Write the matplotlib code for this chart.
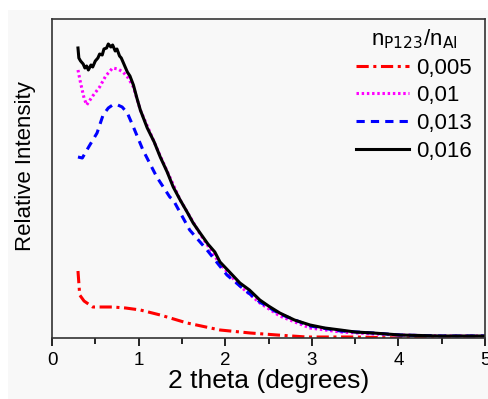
import matplotlib
matplotlib.use('Agg')
import matplotlib.pyplot as plt
from matplotlib.patches import Rectangle

plt.rcParams['font.family'] = ['Liberation Sans', 'DejaVu Sans']

# 2 theta values and relative intensity
x_016 = [0.30, 0.31, 0.33, 0.36, 0.38, 0.40, 0.42, 0.45, 0.47, 0.50, 0.53, 0.55, 0.58, 0.60,
         0.63, 0.65, 0.68, 0.70, 0.73, 0.75, 0.78, 0.80, 0.84, 0.87, 0.90, 0.94, 0.98,
         1.02, 1.10, 1.18, 1.25, 1.33, 1.40, 1.48, 1.56, 1.63, 1.71, 1.80, 1.88, 1.94,
         2.05, 2.17, 2.28, 2.40, 2.50, 2.63, 2.80, 2.98, 3.15, 3.33, 3.50, 3.71, 4.02,
         4.48, 5.0]
y_016 = [290, 280, 277, 274, 270, 272, 268, 273, 271, 277, 280, 284, 283, 289,
         290, 294, 291, 293, 287, 289, 282, 280, 272, 266, 262, 253, 240,
         228, 210, 196, 181, 166, 151, 138, 126, 115, 105, 94, 86, 76,
         66, 55, 48, 38, 32, 25, 18, 13, 10, 8, 6, 5, 3, 2, 2]

x_01 = [0.30, 0.33, 0.37, 0.40, 0.47, 0.55, 0.62, 0.70, 0.76, 0.82, 0.88, 0.94,
        1.02, 1.25, 1.48, 1.71, 1.94, 2.17, 2.40, 2.63, 2.98, 3.33, 3.71, 4.02, 4.48, 5.0]
y_01 = [268, 255, 240, 233, 242, 251, 262, 270, 269, 266, 260, 251,
        228, 182, 138, 104, 74, 52, 35, 22, 10, 6, 4, 3, 2, 2]

x_013 = [0.30, 0.35, 0.43, 0.52, 0.59, 0.65, 0.70, 0.76, 0.81, 0.87, 0.94, 1.05,
         1.21, 1.36, 1.40, 1.59, 1.79, 2.02, 2.17, 2.40, 2.63, 2.98, 3.33, 3.71, 4.02, 4.48, 5.0]
y_013 = [181, 180, 192, 205, 223, 230, 233, 233, 231, 225, 211, 188,
         161, 141, 138, 108, 88, 63, 52, 36, 24, 12, 7, 5, 3, 2, 2]

x_005 = [0.30, 0.32, 0.37, 0.47, 0.60, 0.70, 0.85, 1.02, 1.25, 1.56, 1.94, 2.29,
         2.60, 2.94, 3.50, 4.00, 4.50, 5.0]
y_005 = [67, 43, 37, 31, 31, 31, 30, 28, 23, 15, 8, 5, 3, 1, 1, 0, 0, 0]

labels = ['0,005', '0,01', '0,013', '0,016']

fig = plt.figure(figsize=(4.88, 3.99), dpi=100)
fig.patches.append(Rectangle((8 / 488, 0), 1, 1 - 10 / 399, transform=fig.transFigure,
                             facecolor='#f8f8f8', edgecolor='none', zorder=-10))
ax = fig.add_axes([52 / 488, 1 - 338 / 399, 433 / 488, 319 / 399])
ax.set_facecolor('#f8f8f8')

ax.plot(x_005, y_005, color='red', linestyle=(0, (4, 1.5, 1, 1.5)), lw=2.2, label=labels[0])
ax.plot(x_01, y_01, color='#ff00ff', linestyle=(0, (0.8, 0.9)), lw=2.2, label=labels[1])
ax.plot(x_013, y_013, color='blue', linestyle=(0, (2.7, 2)), lw=2.2, label=labels[2])
ax.plot(x_016, y_016, color='black', linestyle='-', lw=2.2, label=labels[3])

ax.set_xlim(0, 5)
ax.set_ylim(0, 319)
ax.set_xticks([0, 1, 2, 3, 4, 5])
ax.set_xticks([0.5, 1.5, 2.5, 3.5, 4.5], minor=True)
ax.set_yticks([])
ax.tick_params(axis='x', which='major', direction='out', length=6, width=1.2, labelsize=13.5, pad=4)
ax.tick_params(axis='x', which='minor', direction='out', length=4, width=1.2)
for s in ax.spines.values():
    s.set_linewidth(1.2)
    s.set_color('#333333')

ax.set_xlabel('2 theta (degrees)', fontsize=19, labelpad=0)
ax.set_ylabel('Relative Intensity', fontsize=16)
ax.yaxis.set_label_coords(-0.038, 0.54)

leg = ax.legend(title=r'n$_{\mathrm{P123}}$/n$_{\mathrm{Al}}$', loc='upper right', frameon=False,
                fontsize=16, title_fontsize=16, handlelength=2.4, handletextpad=0.3,
                labelspacing=0.3, borderaxespad=0.0, borderpad=0.3,
                bbox_to_anchor=(0.985, 0.995))

plt.savefig('out.png', dpi=100)
